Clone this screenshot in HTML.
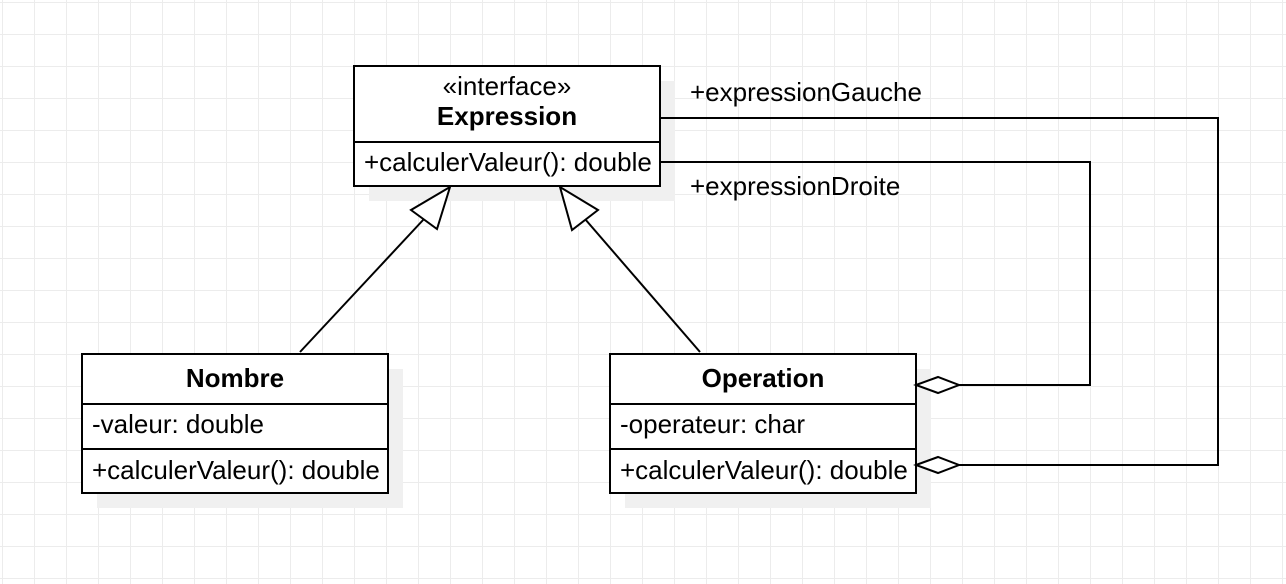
<!DOCTYPE html>
<html><head><meta charset="utf-8"><style>
body{margin:0;width:1286px;height:584px;overflow:hidden;background:#fff;}
svg{display:block;font-family:"Liberation Sans",Arial,sans-serif;}
</style></head><body>
<svg width="1286" height="584" viewBox="0 0 1286 584" xmlns="http://www.w3.org/2000/svg">
<defs>
<pattern id="g" x="2" y="2" width="32" height="32" patternUnits="userSpaceOnUse">
<path d="M0 0H32M0 0V32" stroke="#ececec" stroke-width="2" fill="none"/>
</pattern>
</defs>
<rect width="1286" height="584" fill="url(#g)"/>
<rect x="369" y="81" width="306" height="120" fill="#f0f0f0"/>
<rect x="97" y="369" width="306" height="139" fill="#f0f0f0"/>
<rect x="625" y="369" width="306" height="139" fill="#f0f0f0"/>
<g stroke="#000" stroke-width="2" fill="#fff">
<rect x="354" y="66" width="306" height="120"/>
<line x1="354" y1="142" x2="660" y2="142"/>
<rect x="82" y="354" width="306" height="139"/>
<line x1="82" y1="404" x2="388" y2="404"/>
<line x1="82" y1="449" x2="388" y2="449"/>
<rect x="610" y="354" width="306" height="139"/>
<line x1="610" y1="404" x2="916" y2="404"/>
<line x1="610" y1="449" x2="916" y2="449"/>
<line x1="300" y1="352" x2="424" y2="219" fill="none"/>
<polygon points="450,187 411,210 437,229"/>
<line x1="700" y1="352" x2="585" y2="219" fill="none"/>
<polygon points="560,187 572,230 598,210"/>
<polyline points="660,118 1218,118 1218,465 959,465" fill="none"/>
<polyline points="660,162 1090,162 1090,385 959,385" fill="none"/>
<polygon points="916,385 938,377 959,385 938,393"/>
<polygon points="916,465 938,457 959,465 938,473"/>
</g>
<g font-size="26" fill="#000">
<text x="507" y="95" text-anchor="middle">«interface»</text>
<text x="507" y="125" text-anchor="middle" font-weight="bold">Expression</text>
<text x="364" y="171">+calculerValeur(): double</text>
<text x="235" y="387" text-anchor="middle" font-weight="bold">Nombre</text>
<text x="92" y="433">-valeur: double</text>
<text x="92" y="479">+calculerValeur(): double</text>
<text x="763" y="387" text-anchor="middle" font-weight="bold">Operation</text>
<text x="620" y="433">-operateur: char</text>
<text x="620" y="479">+calculerValeur(): double</text>
<text x="690" y="101">+expressionGauche</text>
<text x="690" y="195">+expressionDroite</text>
</g>
</svg>
</body></html>
